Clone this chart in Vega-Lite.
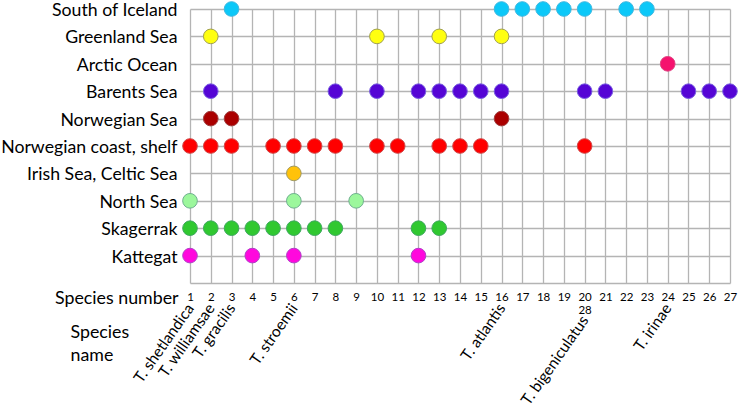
{
  "$schema": "https://vega.github.io/schema/vega-lite/v6.json",
  "width": 540,
  "height": 274,
  "autosize": {"type": "none"},
  "padding": {"left": 190, "top": 9, "right": 9, "bottom": 127},
  "background": "white",
  "config": {
    "view": {"stroke": null},
    "font": "Lato",
    "axis": {"labelColor": "#000", "titleColor": "#000", "gridColor": "#b4b4b4", "gridWidth": 1.3, "gridOpacity": 1}
  },
  "datasets": {
    "obs": [
      {"region": "South of Iceland", "species": 3},
      {"region": "South of Iceland", "species": 16},
      {"region": "South of Iceland", "species": 17},
      {"region": "South of Iceland", "species": 18},
      {"region": "South of Iceland", "species": 19},
      {"region": "South of Iceland", "species": 20},
      {"region": "South of Iceland", "species": 22},
      {"region": "South of Iceland", "species": 23},
      {"region": "Greenland Sea", "species": 2},
      {"region": "Greenland Sea", "species": 10},
      {"region": "Greenland Sea", "species": 13},
      {"region": "Greenland Sea", "species": 16},
      {"region": "Arctic Ocean", "species": 24},
      {"region": "Barents Sea", "species": 2},
      {"region": "Barents Sea", "species": 8},
      {"region": "Barents Sea", "species": 10},
      {"region": "Barents Sea", "species": 12},
      {"region": "Barents Sea", "species": 13},
      {"region": "Barents Sea", "species": 14},
      {"region": "Barents Sea", "species": 15},
      {"region": "Barents Sea", "species": 16},
      {"region": "Barents Sea", "species": 20},
      {"region": "Barents Sea", "species": 21},
      {"region": "Barents Sea", "species": 25},
      {"region": "Barents Sea", "species": 26},
      {"region": "Barents Sea", "species": 27},
      {"region": "Norwegian Sea", "species": 2},
      {"region": "Norwegian Sea", "species": 3},
      {"region": "Norwegian Sea", "species": 16},
      {"region": "Norwegian coast, shelf", "species": 1},
      {"region": "Norwegian coast, shelf", "species": 2},
      {"region": "Norwegian coast, shelf", "species": 3},
      {"region": "Norwegian coast, shelf", "species": 5},
      {"region": "Norwegian coast, shelf", "species": 6},
      {"region": "Norwegian coast, shelf", "species": 7},
      {"region": "Norwegian coast, shelf", "species": 8},
      {"region": "Norwegian coast, shelf", "species": 10},
      {"region": "Norwegian coast, shelf", "species": 11},
      {"region": "Norwegian coast, shelf", "species": 13},
      {"region": "Norwegian coast, shelf", "species": 14},
      {"region": "Norwegian coast, shelf", "species": 15},
      {"region": "Norwegian coast, shelf", "species": 20},
      {"region": "Irish Sea, Celtic Sea", "species": 6},
      {"region": "North Sea", "species": 1},
      {"region": "North Sea", "species": 6},
      {"region": "North Sea", "species": 9},
      {"region": "Skagerrak", "species": 1},
      {"region": "Skagerrak", "species": 2},
      {"region": "Skagerrak", "species": 3},
      {"region": "Skagerrak", "species": 4},
      {"region": "Skagerrak", "species": 5},
      {"region": "Skagerrak", "species": 6},
      {"region": "Skagerrak", "species": 7},
      {"region": "Skagerrak", "species": 8},
      {"region": "Skagerrak", "species": 12},
      {"region": "Skagerrak", "species": 13},
      {"region": "Kattegat", "species": 1},
      {"region": "Kattegat", "species": 4},
      {"region": "Kattegat", "species": 6},
      {"region": "Kattegat", "species": 12}
    ],
    "names": [
      {"species": 1, "name": "T. shetlandica"},
      {"species": 2, "name": "T. williamsae"},
      {"species": 3, "name": "T. gracilis"},
      {"species": 6, "name": "T. stroemii"},
      {"species": 16, "name": "T. atlantis"},
      {"species": 20, "name": "T. bigeniculatus"},
      {"species": 24, "name": "T. irinae"}
    ]
  },
  "resolve": {"axis": {"x": "independent"}},
  "layer": [
    {
      "data": {"name": "obs"},
      "mark": {"type": "circle", "opacity": 1, "strokeWidth": 1},
      "encoding": {
        "x": {
          "field": "species", "type": "quantitative",
          "scale": {"domain": [1, 27], "nice": false, "zero": false},
          "axis": {
            "orient": "bottom",
            "values": [1,2,3,4,5,6,7,8,9,10,11,12,13,14,15,16,17,18,19,20,21,22,23,24,25,26,27],
            "labelExpr": "datum.value == 20 ? ['20','28'] : datum.label",
            "labelFontSize": 11.5, "labelPadding": 8, "labelLineHeight": 13,
            "labelFlush": false, "labelOverlap": false,
            "domain": false, "ticks": false, "grid": true,
            "title": "Species number", "titleFontSize": 17.8, "titleFontWeight": "normal",
            "titleAngle": 0, "titleX": -12, "titleY": 15, "titleAlign": "right", "titleBaseline": "middle", "titleAnchor": null
          }
        },
        "y": {
          "field": "region", "type": "nominal",
          "scale": {"type": "point", "padding": 0, "domain": ["South of Iceland", "Greenland Sea", "Arctic Ocean", "Barents Sea", "Norwegian Sea", "Norwegian coast, shelf", "Irish Sea, Celtic Sea", "North Sea", "Skagerrak", "Kattegat", " "]},
          "axis": {"title": null, "domain": false, "ticks": false, "grid": true, "labelFontSize": 17.7, "labelPadding": 13, "labelOffset": 1.5, "labelBound": false}
        },
        "fill": {
          "field": "region", "type": "nominal", "legend": null,
          "scale": {"domain": ["South of Iceland", "Greenland Sea", "Arctic Ocean", "Barents Sea", "Norwegian Sea", "Norwegian coast, shelf", "Irish Sea, Celtic Sea", "North Sea", "Skagerrak", "Kattegat"],
                    "range": ["#0cc8f8", "#ffff10", "#f5126e", "#5505d5", "#aa0000", "#ff0000", "#ffc20a", "#9cf79c", "#30c830", "#ff08dd"]}
        },
        "stroke": {
          "field": "region", "type": "nominal", "legend": null,
          "scale": {"domain": ["South of Iceland", "Greenland Sea", "Arctic Ocean", "Barents Sea", "Norwegian Sea", "Norwegian coast, shelf", "Irish Sea, Celtic Sea", "North Sea", "Skagerrak", "Kattegat"],
                    "range": ["#40b8e0", "#a0a050", "#e04080", "#7a60e0", "#a04040", "#d04848", "#a09a60", "#70b090", "#40a860", "#b040c8"]}
        },
        "size": {"value": 215}
      }
    },
    {
      "data": {"name": "names"},
      "mark": {"type": "circle", "opacity": 0},
      "encoding": {
        "x": {
          "field": "species", "type": "quantitative",
          "axis": {
            "orient": "bottom",
            "values": [1, 2, 3, 6, 16, 20, 24],
            "labelExpr": "{'1':'T. shetlandica','2':'T. williamsae','3':'T. gracilis','6':'T. stroemii','16':'T. atlantis','20':'T. bigeniculatus','24':'T. irinae'}[datum.label]",
            "labelAngle": -55, "labelAlign": "right", "labelBaseline": "middle",
            "labelFontSize": 15.5,
            "labelPadding": {"condition": {"test": "datum.value == 20", "value": 34}, "value": 22},
            "labelFlush": false, "labelOverlap": false, "labelBound": false,
            "domain": false, "ticks": false, "grid": false,
            "title": ["Species", "name"], "titleFontSize": 17.8, "titleFontWeight": "normal", "titleLineHeight": 23,
            "titleAngle": 0, "titleX": -120, "titleY": 49, "titleAlign": "left", "titleBaseline": "middle", "titleAnchor": null
          }
        }
      }
    }
  ]
}
